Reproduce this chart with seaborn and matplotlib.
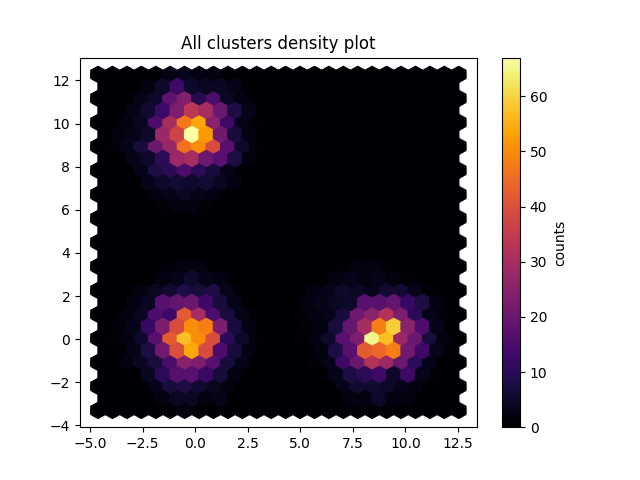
import numpy as np
import matplotlib
matplotlib.use("Agg")
import matplotlib.pyplot as plt
import seaborn as sns

# Hexbin grid
x_extent = (-4.62, 12.54)
y_extent = (-3.30, 12.28)
grid_size = 25

# Counts of the main hex lattice (26 per row), rows listed top to bottom
counts_grid1 = [
    [0, 0, 0, 0, 0, 2, 3, 2, 2, 0, 0, 0, 0, 0, 0, 0, 0, 0, 0, 0, 0, 0, 0, 0, 0, 0],
    [0, 0, 0, 3, 5, 18, 24, 9, 15, 4, 2, 0, 0, 0, 0, 0, 0, 0, 0, 0, 0, 0, 0, 0, 0, 0],
    [0, 0, 2, 4, 15, 30, 47, 54, 25, 13, 3, 1, 0, 0, 0, 0, 0, 0, 0, 0, 0, 0, 0, 0, 0, 0],
    [0, 1, 3, 7, 20, 27, 46, 50, 39, 17, 5, 1, 0, 0, 0, 0, 0, 0, 0, 0, 0, 0, 0, 0, 0, 0],
    [0, 0, 0, 3, 8, 10, 15, 10, 7, 3, 0, 0, 0, 0, 0, 0, 0, 0, 0, 0, 0, 0, 0, 0, 0, 0],
    [0, 0, 0, 0, 2, 3, 4, 3, 2, 0, 0, 0, 0, 0, 0, 0, 0, 0, 0, 0, 0, 0, 0, 0, 0, 0],
    [0, 0, 0, 0, 0, 0, 0, 0, 0, 0, 0, 0, 0, 0, 0, 0, 0, 0, 0, 0, 0, 0, 0, 0, 0, 0],
    [0, 0, 0, 0, 0, 0, 0, 0, 0, 0, 0, 0, 0, 0, 0, 0, 0, 0, 0, 0, 0, 0, 0, 0, 0, 0],
    [0, 0, 0, 0, 0, 1, 2, 2, 0, 0, 0, 0, 0, 0, 0, 0, 0, 1, 2, 2, 1, 0, 0, 0, 0, 0],
    [0, 0, 0, 2, 4, 6, 8, 7, 8, 3, 0, 0, 0, 0, 0, 2, 3, 5, 4, 3, 6, 6, 3, 1, 0, 0],
    [0, 0, 2, 4, 15, 13, 42, 30, 15, 7, 3, 0, 0, 0, 1, 2, 3, 7, 21, 25, 32, 23, 10, 3, 1, 0],
    [0, 1, 2, 5, 17, 42, 57, 50, 39, 10, 5, 1, 0, 0, 1, 2, 5, 17, 23, 65, 57, 28, 20, 7, 2, 0],
    [0, 0, 2, 4, 7, 15, 25, 23, 17, 7, 3, 0, 0, 0, 0, 1, 3, 13, 20, 32, 28, 20, 10, 3, 0, 0],
    [0, 0, 0, 0, 3, 7, 8, 6, 4, 2, 0, 0, 0, 0, 0, 0, 0, 3, 6, 6, 5, 3, 2, 0, 0, 0],
    [0, 0, 0, 0, 0, 1, 2, 1, 0, 0, 0, 0, 0, 0, 0, 0, 0, 0, 1, 1, 1, 0, 0, 0, 0, 0],
]

# Counts of the offset hex lattice (25 per row), rows listed top to bottom
counts_grid2 = [
    [0, 0, 0, 2, 5, 13, 5, 4, 4, 3, 0, 0, 0, 0, 0, 0, 0, 0, 0, 0, 0, 0, 0, 0, 0],
    [0, 0, 3, 6, 13, 23, 34, 30, 20, 8, 3, 0, 0, 0, 0, 0, 0, 0, 0, 0, 0, 0, 0, 0, 0],
    [0, 2, 3, 5, 28, 37, 67, 52, 21, 7, 2, 0, 0, 0, 0, 0, 0, 0, 0, 0, 0, 0, 0, 0, 0],
    [0, 0, 3, 5, 10, 28, 30, 20, 17, 8, 2, 0, 0, 0, 0, 0, 0, 0, 0, 0, 0, 0, 0, 0, 0],
    [0, 0, 0, 3, 5, 6, 5, 6, 4, 2, 0, 0, 0, 0, 0, 0, 0, 0, 0, 0, 0, 0, 0, 0, 0],
    [0, 0, 0, 0, 1, 2, 2, 1, 0, 0, 0, 0, 0, 0, 0, 0, 0, 0, 0, 0, 0, 0, 0, 0, 0],
    [0, 0, 0, 0, 0, 0, 0, 0, 0, 0, 0, 0, 0, 0, 0, 0, 0, 0, 0, 0, 0, 0, 0, 0, 0],
    [0, 0, 0, 0, 0, 0, 0, 0, 0, 0, 0, 0, 0, 0, 0, 0, 0, 0, 0, 0, 0, 0, 0, 0, 0],
    [0, 0, 0, 0, 2, 3, 5, 3, 2, 0, 0, 0, 0, 0, 0, 0, 2, 3, 2, 3, 2, 1, 0, 0, 0],
    [0, 0, 2, 4, 17, 19, 20, 13, 7, 3, 0, 0, 0, 0, 2, 3, 4, 5, 17, 17, 19, 12, 8, 2, 0],
    [0, 1, 3, 12, 23, 39, 50, 48, 23, 7, 2, 0, 0, 0, 1, 2, 7, 19, 30, 48, 59, 25, 15, 3, 0],
    [0, 0, 3, 8, 21, 40, 54, 39, 15, 7, 2, 0, 0, 0, 0, 2, 8, 17, 42, 44, 48, 21, 13, 3, 1],
    [0, 0, 0, 4, 10, 17, 17, 12, 7, 2, 0, 0, 0, 0, 0, 0, 3, 8, 10, 13, 5, 13, 3, 1, 0],
    [0, 0, 0, 0, 2, 4, 4, 2, 3, 0, 0, 0, 0, 0, 0, 0, 0, 2, 2, 5, 2, 2, 0, 0, 0],
]

title_text = "All clusters density plot"
colorbar_label = "counts"

# Place one weighted sample at every hexagon centre of matplotlib's hexbin lattice
nx = grid_size
ny = int(nx / np.sqrt(3))
sx = (x_extent[1] - x_extent[0]) / nx
sy = (y_extent[1] - y_extent[0]) / ny

g1 = np.array(counts_grid1)[::-1]
g2 = np.array(counts_grid2)[::-1]
xs, ys, cs = [], [], []
for j in range(ny + 1):
    for i in range(nx + 1):
        xs.append(x_extent[0] + i * sx)
        ys.append(y_extent[0] + j * sy)
        cs.append(g1[j, i])
for j in range(ny):
    for i in range(nx):
        xs.append(x_extent[0] + (i + 0.5) * sx)
        ys.append(y_extent[0] + (j + 0.5) * sy)
        cs.append(g2[j, i])

cmap = sns.color_palette("inferno", as_cmap=True)

fig, ax = plt.subplots(figsize=(6.4, 4.8), dpi=100)
hb = ax.hexbin(xs, ys, C=cs, gridsize=grid_size,
               extent=(x_extent[0], x_extent[1], y_extent[0], y_extent[1]),
               reduce_C_function=np.sum, cmap=cmap)
fig.colorbar(hb, ax=ax, label=colorbar_label)
ax.set_title(title_text)
fig.savefig("out.png", dpi=100)
